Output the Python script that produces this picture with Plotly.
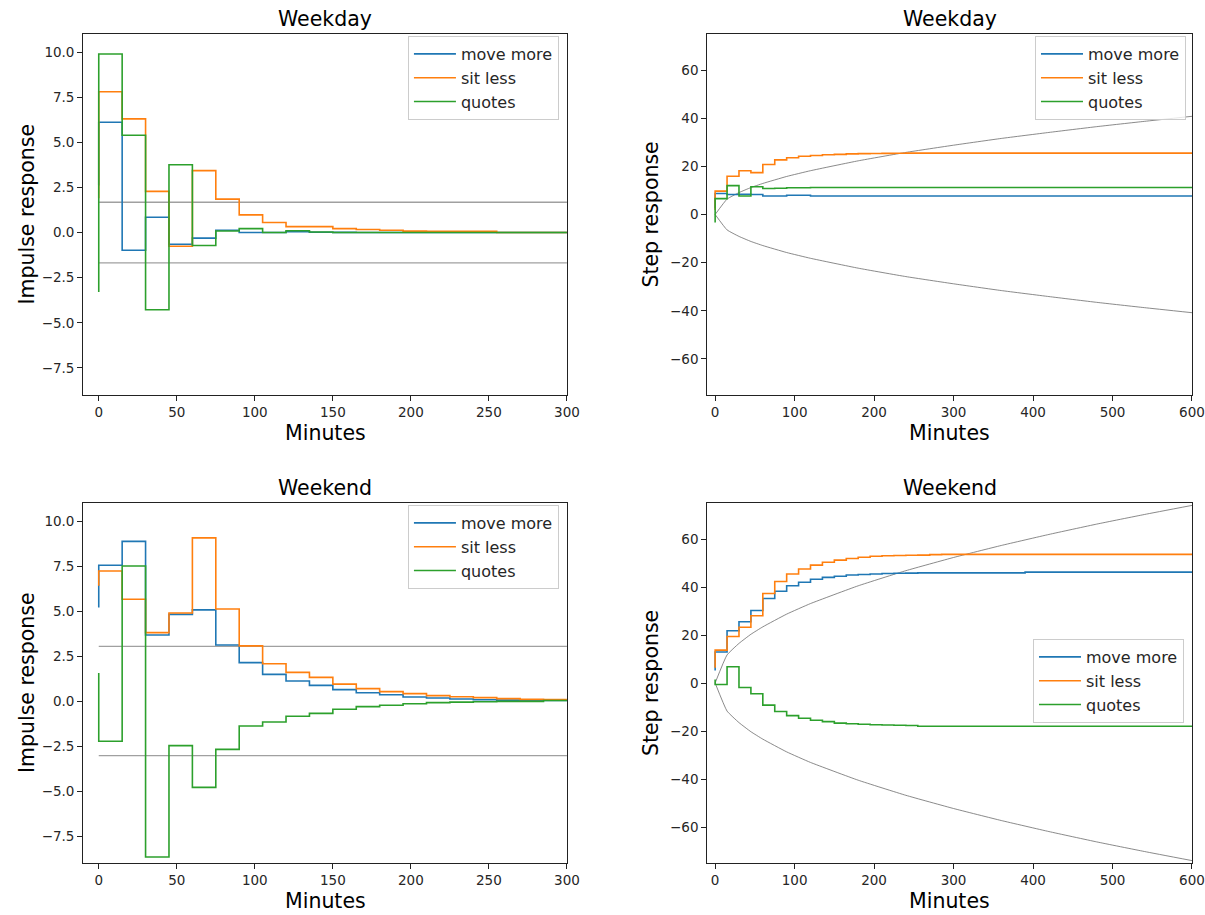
import plotly.graph_objects as go

# ---------------- data ----------------
impulse_minutes = [0, 15, 30, 45, 60, 75, 90, 105, 120, 135, 150, 165, 180, 195, 210, 225, 240, 255, 270, 285, 300]
step_minutes = list(range(0, 601, 15))
series_names = ["move more", "sit less", "quotes"]

weekday_impulse_move = [2.6, 6.11, -0.98, 0.85, -0.65, -0.31, 0.13, 0.0, 0.0, 0.05, 0.02, 0.01, 0.0, 0.0, 0.0, 0.0, 0.0, 0.0, 0.0, 0.0, 0.0]
weekday_impulse_sit = [1.9, 7.8, 6.3, 2.28, -0.76, 3.43, 1.85, 0.98, 0.56, 0.33, 0.33, 0.22, 0.17, 0.13, 0.08, 0.07, 0.07, 0.07, 0.0, 0.0, 0.0]
weekday_impulse_quotes = [-3.3, 9.89, 5.39, -4.28, 3.76, -0.72, 0.09, 0.22, 0.0, 0.1, 0.03, 0.0, 0.0, 0.0, 0.0, 0.0, 0.0, 0.0, 0.0, 0.0, 0.0]
weekday_band = 1.68

weekend_impulse_move = [5.2, 7.54, 8.87, 3.67, 4.81, 5.06, 3.11, 2.13, 1.48, 1.11, 0.87, 0.63, 0.46, 0.35, 0.22, 0.17, 0.11, 0.07, 0.05, 0.04, 0.03]
weekend_impulse_sit = [6.4, 7.22, 5.65, 3.80, 4.89, 9.06, 5.11, 3.06, 2.07, 1.59, 1.31, 0.94, 0.69, 0.52, 0.41, 0.30, 0.24, 0.19, 0.13, 0.09, 0.08]
weekend_impulse_quotes = [1.55, -2.24, 7.50, -8.67, -2.48, -4.80, -2.69, -1.39, -1.17, -0.85, -0.69, -0.46, -0.31, -0.24, -0.15, -0.09, -0.06, -0.04, -0.02, -0.02, 0.03]
weekend_band = 3.03

weekday_step_move = [2.6, 8.7, 8.3, 8.4, 8.3, 7.7, 7.7, 8.0, 8.0] + [7.7] * 32
weekday_step_sit = [1.9, 9.7, 15.9, 18.2, 17.4, 20.8, 22.7, 23.6, 24.2, 24.5, 24.8, 25.0, 25.2, 25.3, 25.35, 25.4, 25.45] + [25.5] * 24
weekday_step_quotes = [-3.3, 6.6, 12.0, 7.7, 11.5, 10.8, 10.9, 11.1, 11.1] + [11.2] * 32

weekend_step_move = [5.2, 12.9, 21.8, 25.5, 30.2, 35.2, 38.2, 40.5, 42.0, 43.2, 44.0, 44.5, 45.0, 45.2, 45.4, 45.6, 45.7, 45.8, 45.9, 45.9, 45.9, 45.9, 45.9, 45.9, 45.9, 45.9, 45.9] + [46.2] * 14
weekend_step_sit = [6.4, 13.7, 19.4, 23.2, 28.0, 37.3, 42.3, 45.4, 47.5, 49.1, 50.3, 51.2, 51.9, 52.4, 52.8, 53.0, 53.1, 53.2, 53.3, 53.5] + [53.6] * 21
weekend_step_quotes = [1.5, -0.6, 6.8, -1.9, -4.5, -9.2, -11.9, -13.6, -14.7, -15.5, -16.1, -16.7, -17.0, -17.2, -17.4, -17.5, -17.6, -17.7] + [-18.0] * 23

envelope_minutes = [0, 15, 30, 45, 60, 90, 120, 180, 240, 300, 360, 420, 480, 540, 600]
weekday_envelope = [0, 6.4, 9.1, 11.2, 12.9, 15.8, 18.2, 22.3, 25.8, 28.8, 31.6, 34.1, 36.5, 38.7, 40.8]
weekend_envelope = [0, 11.7, 16.5, 20.3, 23.4, 28.7, 33.1, 40.5, 46.8, 52.3, 57.3, 61.9, 66.2, 70.2, 74.0]

colors = ["#1f77b4", "#ff7f0e", "#2ca02c"]

# ---------------- figure ----------------
W, H = 1205, 915
WX = 1190  # effective horizontal extent used when placing elements
FONT = "DejaVu Sans"
TEXT = "#262626"

def px_x(a, b):
    return [a / WX, b / WX]

def px_y(top, bottom):
    return [1 - bottom / H, 1 - top / H]

left_dom = px_x(83, 566)
right_dom = px_x(706, 1190)
top_dom = px_y(34, 395)
bot_dom = px_y(503, 863)

fig = go.Figure()

panels = [
    ("x", "y", "legend", impulse_minutes, [weekday_impulse_move, weekday_impulse_sit, weekday_impulse_quotes], "band", weekday_band),
    ("x2", "y2", "legend2", step_minutes, [weekday_step_move, weekday_step_sit, weekday_step_quotes], "env", weekday_envelope),
    ("x3", "y3", "legend3", impulse_minutes, [weekend_impulse_move, weekend_impulse_sit, weekend_impulse_quotes], "band", weekend_band),
    ("x4", "y4", "legend4", step_minutes, [weekend_step_move, weekend_step_sit, weekend_step_quotes], "env", weekend_envelope),
]

for xr, yr, lg, xs, series, kind, ref in panels:
    if kind == "band":
        for sign in (1, -1):
            fig.add_trace(go.Scatter(x=[0, 300], y=[sign * ref, sign * ref], mode="lines",
                                     line=dict(color="rgba(128,128,128,0.75)", width=1.3),
                                     showlegend=False, hoverinfo="skip", xaxis=xr, yaxis=yr))
    else:
        for sign in (1, -1):
            fig.add_trace(go.Scatter(x=envelope_minutes, y=[sign * v for v in ref], mode="lines",
                                     line=dict(color="rgba(110,110,110,0.9)", width=0.9, shape="spline", smoothing=0.4),
                                     showlegend=False, hoverinfo="skip", xaxis=xr, yaxis=yr))
    for name, ys, c in zip(series_names, series, colors):
        fig.add_trace(go.Scatter(x=xs, y=ys, mode="lines", name=name,
                                 line=dict(color=c, width=1.6, shape="vh"),
                                 legend=lg, xaxis=xr, yaxis=yr))

axis_common = dict(showline=True, linecolor="#222222", linewidth=1, mirror=True,
                   ticks="outside", ticklen=5, tickwidth=1, tickcolor="#222222",
                   showgrid=False, zeroline=False, ticklabeloverflow="allow",
                   tickfont=dict(family=FONT, size=13.5, color=TEXT))

imp_x = dict(axis_common, range=[-10, 300], tick0=0, dtick=50)
imp_y = dict(axis_common, range=[-9, 11], tick0=0, dtick=2.5, tickformat=".1f")
stp_x = dict(axis_common, range=[-10, 600], tick0=0, dtick=100)
stp_y = dict(axis_common, range=[-75, 75], tick0=0, dtick=20)

legend_common = dict(xanchor="right", yanchor="top", bgcolor="rgba(255,255,255,0.8)",
                     bordercolor="#cccccc", borderwidth=1, itemwidth=42,
                     font=dict(family=FONT, size=16, color=TEXT), tracegroupgap=0)

fig.update_layout(
    width=W, height=H, autosize=False,
    margin=dict(l=0, r=0, t=0, b=0),
    paper_bgcolor="white", plot_bgcolor="white",
    font=dict(family=FONT, color=TEXT),
    showlegend=True,
    xaxis=dict(imp_x, domain=left_dom, anchor="y"),
    yaxis=dict(imp_y, domain=top_dom, anchor="x"),
    xaxis2=dict(stp_x, domain=right_dom, anchor="y2"),
    yaxis2=dict(stp_y, domain=top_dom, anchor="x2"),
    xaxis3=dict(imp_x, domain=left_dom, anchor="y3"),
    yaxis3=dict(imp_y, domain=bot_dom, anchor="x3"),
    xaxis4=dict(stp_x, domain=right_dom, anchor="y4"),
    yaxis4=dict(stp_y, domain=bot_dom, anchor="x4"),
    legend=dict(legend_common, x=558 / WX, y=1 - 36 / H),
    legend2=dict(legend_common, x=1184 / WX, y=1 - 36 / H),
    legend3=dict(legend_common, x=558 / WX, y=1 - 505 / H),
    legend4=dict(legend_common, x=1182 / WX, y=1 - 639 / H),
)

titles = [("Weekday", left_dom, top_dom), ("Weekday", right_dom, top_dom),
          ("Weekend", left_dom, bot_dom), ("Weekend", right_dom, bot_dom)]
ylabels = ["Impulse response", "Step response", "Impulse response", "Step response"]
ylabel_x = [27 / WX, 650 / WX, 27 / WX, 650 / WX]

for (t, xd, yd), yl, ylx in zip(titles, ylabels, ylabel_x):
    xc = (xd[0] + xd[1]) / 2
    yc = (yd[0] + yd[1]) / 2
    fig.add_annotation(text=t, x=xc, y=yd[1], xref="paper", yref="paper",
                       xanchor="center", yanchor="bottom", yshift=1, showarrow=False,
                       font=dict(family=FONT, size=20.5, color="black"))
    fig.add_annotation(text="Minutes", x=xc, y=yd[0], xref="paper", yref="paper",
                       xanchor="center", yanchor="top", yshift=-24, showarrow=False,
                       font=dict(family=FONT, size=20.5, color="black"))
    fig.add_annotation(text=yl, x=ylx, y=yc, xref="paper", yref="paper",
                       xanchor="center", yanchor="middle", textangle=-90, showarrow=False,
                       font=dict(family=FONT, size=20.5, color="black"))

fig.write_html("out.html",
               config={"displayModeBar": False, "responsive": False},
               post_script=("document.documentElement.style.overflow='hidden';"
                            "document.body.style.overflow='hidden';"
                            "document.body.style.margin='0';document.body.style.padding='0';"))
